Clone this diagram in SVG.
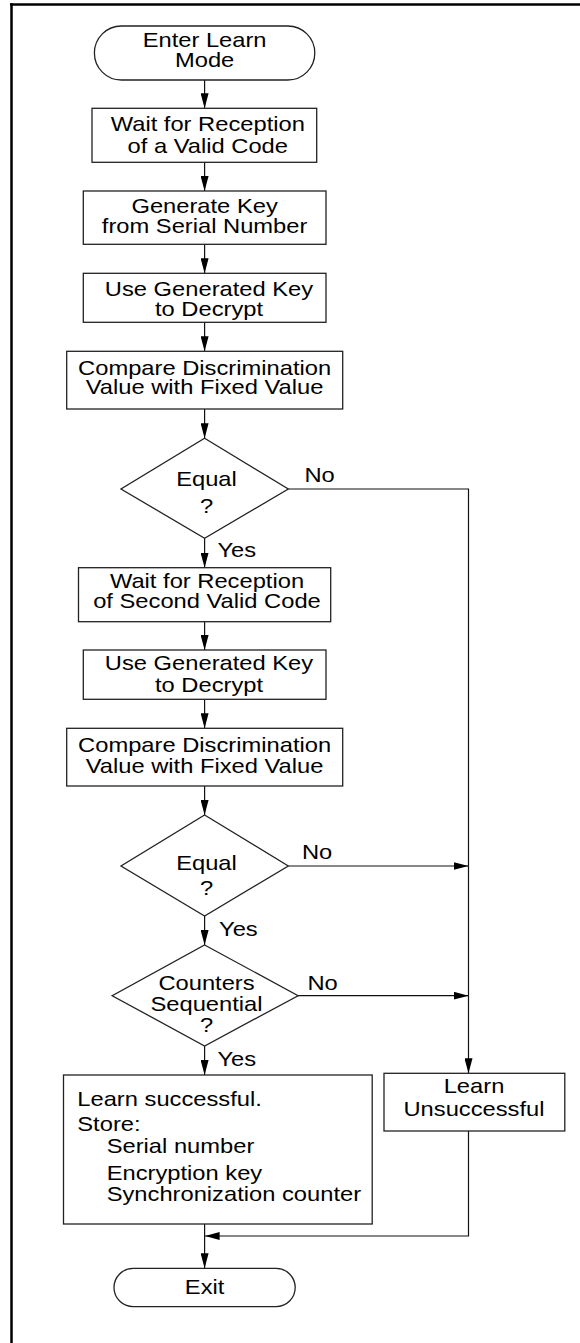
<svg xmlns="http://www.w3.org/2000/svg" width="580" height="1343" viewBox="0 0 580 1343">
<style>
.shape{fill:#fff;stroke:#222;stroke-width:1.3}
.t{font-family:"Liberation Sans",Arial,Helvetica,sans-serif;font-size:21px;fill:#000}
.c{text-anchor:middle}
.conn{fill:none;stroke:#111;stroke-width:1.2}
</style>
<defs>
<marker id="ah" markerUnits="userSpaceOnUse" markerWidth="15" markerHeight="8" refX="15" refY="4" orient="auto">
<path d="M0,0 L15,4 L0,8 z" fill="#000"/>
</marker>
</defs>
<rect width="580" height="1343" fill="#fff"/>
<g id="frame">
<line x1="10" y1="4.5" x2="580" y2="4.5" stroke="#000" stroke-width="2.5"/>
<line x1="11.5" y1="3.3" x2="11.5" y2="1343" stroke="#000" stroke-width="2.5"/>
</g>
<g id="connectors">
<line class="conn" x1="204.6" y1="80" x2="204.6" y2="108.3" marker-end="url(#ah)"/>
<line class="conn" x1="204.6" y1="162.3" x2="204.6" y2="191" marker-end="url(#ah)"/>
<line class="conn" x1="204.6" y1="244.3" x2="204.6" y2="273.3" marker-end="url(#ah)"/>
<line class="conn" x1="204.6" y1="322.3" x2="204.6" y2="351.3" marker-end="url(#ah)"/>
<line class="conn" x1="204.6" y1="409" x2="204.6" y2="438.3" marker-end="url(#ah)"/>
<line class="conn" x1="204.6" y1="538.3" x2="204.6" y2="567.7" marker-end="url(#ah)"/>
<line class="conn" x1="204.6" y1="621.7" x2="204.6" y2="650" marker-end="url(#ah)"/>
<line class="conn" x1="204.6" y1="699.3" x2="204.6" y2="728.3" marker-end="url(#ah)"/>
<line class="conn" x1="204.6" y1="786" x2="204.6" y2="815" marker-end="url(#ah)"/>
<line class="conn" x1="204.6" y1="916" x2="204.6" y2="945" marker-end="url(#ah)"/>
<line class="conn" x1="204.6" y1="1046" x2="204.6" y2="1075" marker-end="url(#ah)"/>
<polyline class="conn" points="288.3,489 468.5,489 468.5,1073.3" marker-end="url(#ah)"/>
<line class="conn" x1="288.3" y1="866" x2="468.5" y2="866" marker-end="url(#ah)"/>
<line class="conn" x1="298.1" y1="995.7" x2="468.5" y2="995.7" marker-end="url(#ah)"/>
<polyline class="conn" points="468.5,1131 468.5,1236 204.6,1236" marker-end="url(#ah)"/>
<line class="conn" x1="204.6" y1="1224" x2="204.6" y2="1268.3" marker-end="url(#ah)"/>
<g class="t">
<text transform="translate(304.4,0) scale(1.13,1)" x="0" y="481.7">No</text>
<text transform="translate(217.4,0) scale(1.13,1)" x="0" y="557.3">Yes</text>
<text transform="translate(301.9,0) scale(1.13,1)" x="0" y="859.3">No</text>
<text transform="translate(219,0) scale(1.13,1)" x="0" y="936">Yes</text>
<text transform="translate(307.4,0) scale(1.13,1)" x="0" y="990">No</text>
<text transform="translate(217.4,0) scale(1.13,1)" x="0" y="1066">Yes</text>
</g>
</g>
<g id="start">
<rect class="shape" x="94.4" y="26" width="220.4" height="54" rx="27"/>
<g class="t c" transform="translate(204.6,0) scale(1.13,1)"><text x="0" y="46.7">Enter Learn</text><text x="0" y="66.7">Mode</text></g>
</g>
<g id="wait1">
<rect class="shape" x="92" y="108.3" width="224.7" height="54"/>
<g class="t c" transform="translate(207.8,0) scale(1.13,1)"><text x="0" y="131">Wait for Reception</text><text x="0" y="152.7">of a Valid Code</text></g>
</g>
<g id="genkey">
<rect class="shape" x="83.3" y="191" width="242.7" height="53.3"/>
<g class="t c" transform="translate(204.6,0) scale(1.13,1)"><text x="0" y="213.3">Generate Key</text><text x="0" y="233.3">from Serial Number</text></g>
</g>
<g id="decrypt1">
<rect class="shape" x="83.3" y="273.3" width="242.7" height="49"/>
<g class="t c" transform="translate(209,0) scale(1.13,1)"><text x="0" y="296">Use Generated Key</text><text x="0" y="316">to Decrypt</text></g>
</g>
<g id="compare1">
<rect class="shape" x="66.7" y="351.3" width="276" height="57.7"/>
<g class="t c" transform="translate(204.6,0) scale(1.13,1)"><text x="0" y="375">Compare Discrimination</text><text x="0" y="394">Value with Fixed Value</text></g>
</g>
<g id="equal1">
<polygon class="shape" points="204.6,438.3 288.3,489 204.6,538.3 121,489"/>
<g class="t c" transform="translate(206.5,0) scale(1.13,1)"><text x="0" y="486">Equal</text><text x="0" y="512.7">?</text></g>
</g>
<g id="wait2">
<rect class="shape" x="78.5" y="567.7" width="252.2" height="54"/>
<g class="t c" transform="translate(207,0) scale(1.13,1)"><text x="0" y="588.3">Wait for Reception</text><text x="0" y="608.3">of Second Valid Code</text></g>
</g>
<g id="decrypt2">
<rect class="shape" x="83.3" y="650" width="242.7" height="49.3"/>
<g class="t c" transform="translate(209,0) scale(1.13,1)"><text x="0" y="670">Use Generated Key</text><text x="0" y="691.7">to Decrypt</text></g>
</g>
<g id="compare2">
<rect class="shape" x="66.7" y="728.3" width="276" height="57.7"/>
<g class="t c" transform="translate(204.6,0) scale(1.13,1)"><text x="0" y="751.7">Compare Discrimination</text><text x="0" y="772.7">Value with Fixed Value</text></g>
</g>
<g id="equal2">
<polygon class="shape" points="204.6,815 288.3,866 204.6,916 121,866"/>
<g class="t c" transform="translate(206.5,0) scale(1.13,1)"><text x="0" y="870">Equal</text><text x="0" y="895">?</text></g>
</g>
<g id="counters">
<polygon class="shape" points="204.6,945 298.1,995.7 204.6,1046 112.2,995.7"/>
<g class="t c" transform="translate(206.5,0) scale(1.13,1)"><text x="0" y="990">Counters</text><text x="0" y="1011">Sequential</text><text x="0" y="1031.7">?</text></g>
</g>
<g id="success">
<rect class="shape" x="63.5" y="1075" width="308.7" height="149"/>
<g class="t" transform="translate(77.3,0) scale(1.13,1)">
<text x="0" y="1106">Learn successful.</text>
<text x="0" y="1131.5">Store:</text>
<text x="26" y="1153.3">Serial number</text>
<text x="26" y="1180">Encryption key</text>
<text x="26" y="1201">Synchronization counter</text>
</g>
</g>
<g id="unsuccessful">
<rect class="shape" x="384" y="1073.3" width="180.8" height="57.7"/>
<g class="t c" transform="translate(474,0) scale(1.13,1)"><text x="0" y="1093.3">Learn</text><text x="0" y="1115.7">Unsuccessful</text></g>
</g>
<g id="exit">
<rect class="shape" x="114" y="1268.3" width="181.2" height="38.4" rx="19.2"/>
<g class="t c" transform="translate(204.6,0) scale(1.13,1)"><text x="0" y="1294.3">Exit</text></g>
</g>
</svg>
